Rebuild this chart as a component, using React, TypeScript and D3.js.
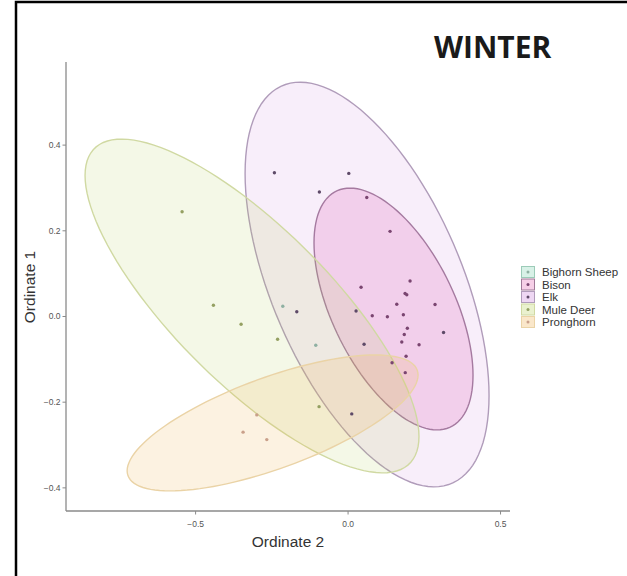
import React from "react";
import * as d3 from "d3";

// ---- data ----
const species = ["Bighorn Sheep", "Bison", "Elk", "Mule Deer", "Pronghorn"];

// 95% ellipses (data units): centre, spread in x / y, correlation
const ellipseSpecies = ["Bison", "Elk", "Mule Deer", "Pronghorn"];
const ellipseCenterX = [0.149, 0.0623, -0.315, -0.2475];
const ellipseCenterY = [0.0175, 0.0746, 0.0245, -0.2484];
const ellipseSdX = [0.2607, 0.4, 0.5475, 0.477];
const ellipseSdY = [0.2822, 0.4723, 0.3895, 0.1586];
const ellipseRho = [-0.547, -0.549, -0.782, 0.7045];

// points
const pointSpecies = [
  "Elk", "Elk", "Elk", "Elk", "Elk", "Elk", "Elk", "Elk",
  "Bison", "Bison", "Bison", "Bison", "Bison", "Bison", "Bison", "Bison", "Bison",
  "Bison", "Bison", "Bison", "Bison", "Bison", "Bison", "Bison", "Bison", "Bison",
  "Mule Deer", "Mule Deer", "Mule Deer", "Mule Deer", "Mule Deer",
  "Pronghorn", "Pronghorn", "Pronghorn",
  "Bighorn Sheep", "Bighorn Sheep",
];
const pointX = [
  -0.2416, 0.0023, -0.0941, -0.1682, 0.0262, 0.0525, 0.0121, 0.3131,
  0.0613, 0.1377, 0.2033, 0.0426, 0.1925, 0.1869, 0.1597, 0.2852, 0.0793,
  0.1289, 0.1813, 0.1944, 0.1843, 0.1761, 0.2328, 0.1902, 0.1443, 0.1875,
  -0.5443, -0.4416, -0.3508, -0.2311, -0.0951,
  -0.2993, -0.3443, -0.2666,
  -0.2141, -0.1059,
];
const pointY = [
  0.3354, 0.334, 0.2904, 0.0112, 0.0128, -0.0648, -0.2274, -0.0373,
  0.2776, 0.1987, 0.0828, 0.0683, 0.0508, 0.0536, 0.0287, 0.028, 0.0019,
  -0.0005, 0.0042, -0.0275, -0.042, -0.0595, -0.0658, -0.0928, -0.1078, -0.1311,
  0.2444, 0.0264, -0.0182, -0.0532, -0.2104,
  -0.2297, -0.2699, -0.2873,
  0.0238, -0.0672,
];

const xTicks = [-0.5, 0.0, 0.5];
const yTicks = [-0.4, -0.2, 0.0, 0.2, 0.4];
const xDomain = [-0.925, 0.531];
const yDomain = [-0.454, 0.594];

// ---- styles ----
const fillColor: Record<string, string> = {
  "Bighorn Sheep": "#7fd1b0",
  Bison: "#e060b0",
  Elk: "#c77cd8",
  "Mule Deer": "#b8d060",
  Pronghorn: "#f0b050",
};
const fillOpacity: Record<string, number> = {
  "Bighorn Sheep": 0.18,
  Bison: 0.22,
  Elk: 0.13,
  "Mule Deer": 0.15,
  Pronghorn: 0.17,
};
const lineColor: Record<string, string> = {
  "Bighorn Sheep": "#9ccbb8",
  Bison: "#a07a98",
  Elk: "#b09cba",
  "Mule Deer": "#d0d9a2",
  Pronghorn: "#ead3a6",
};
const pointColor: Record<string, string> = {
  "Bighorn Sheep": "#8fb0a2",
  Bison: "#7a4570",
  Elk: "#5e4a68",
  "Mule Deer": "#94a062",
  Pronghorn: "#c9a08a",
};

const W = 627;
const H = 576;

export default function App() {
  const x = d3.scaleLinear().domain(xDomain).range([66, 510]);
  const y = d3.scaleLinear().domain(yDomain).range([511, 62]);

  const line = d3
    .line<[number, number]>()
    .x((d) => x(d[0]))
    .y((d) => y(d[1]))
    .curve(d3.curveLinearClosed);

  const ellipsePath = (i: number) => {
    const pts: [number, number][] = [];
    const n = 120;
    const r = ellipseRho[i];
    const s = Math.sqrt(1 - r * r);
    for (let k = 0; k < n; k++) {
      const t = (k / n) * Math.PI * 2;
      const dx = ellipseSdX[i] * Math.cos(t);
      const dy = ellipseSdY[i] * (r * Math.cos(t) + s * Math.sin(t));
      pts.push([ellipseCenterX[i] + dx, ellipseCenterY[i] + dy]);
    }
    return line(pts) || "";
  };

  const axisColor = "#8a8a8a";
  const tickText = "#555";
  const fontSans = "'Liberation Sans', Arial, sans-serif";

  return (
    <svg
      width={W}
      height={H}
      style={{ position: "absolute", left: 0, top: 0, background: "#fff" }}
    >
      <rect x={0} y={0} width={W} height={H} fill="#fff" />
      {/* frame */}
      <rect x={16} y={2} width={800} height={800} fill="none" stroke="#000" strokeWidth={2.5} />

      {/* title */}
      <text
        x={434}
        y={58}
        fontFamily="'Open Sans', 'Noto Sans', sans-serif"
        fontWeight={700}
        fontSize={30}
        fill="#1a1a1a"
      >
        WINTER
      </text>

      {/* ellipses */}
      {ellipseSpecies.map((sp, i) => (
        <path
          key={"e" + sp}
          d={ellipsePath(i)}
          fill={fillColor[sp]}
          fillOpacity={fillOpacity[sp]}
          stroke={lineColor[sp]}
          strokeWidth={1.4}
        />
      ))}

      {/* points */}
      {pointX.map((px, i) => (
        <circle
          key={"p" + i}
          cx={x(px)}
          cy={y(pointY[i])}
          r={1.7}
          fill={pointColor[pointSpecies[i]]}
        />
      ))}

      {/* axes */}
      <line x1={66} x2={66} y1={y.range()[1]} y2={y.range()[0]} stroke={axisColor} strokeWidth={1.3} />
      <line x1={x.range()[0]} x2={x.range()[1]} y1={511} y2={511} stroke={axisColor} strokeWidth={1.3} />
      {yTicks.map((t) => (
        <g key={"yt" + t}>
          <line x1={62.5} x2={66} y1={y(t)} y2={y(t)} stroke={axisColor} strokeWidth={1} />
          <text
            x={60.5}
            y={y(t)}
            textAnchor="end"
            dominantBaseline="central"
            fontFamily={fontSans}
            fontSize={8.5}
            fill={tickText}
          >
            {d3.format(".1f")(t)}
          </text>
        </g>
      ))}
      {xTicks.map((t) => (
        <g key={"xt" + t}>
          <line x1={x(t)} x2={x(t)} y1={511} y2={514.5} stroke={axisColor} strokeWidth={1} />
          <text
            x={x(t)}
            y={524}
            textAnchor="middle"
            dominantBaseline="central"
            fontFamily={fontSans}
            fontSize={8.5}
            fill={tickText}
          >
            {d3.format(".1f")(t)}
          </text>
        </g>
      ))}

      {/* axis titles */}
      <text
        x={288}
        y={547}
        textAnchor="middle"
        fontFamily={fontSans}
        fontSize={15.5}
        fill="#333"
      >
        Ordinate 2
      </text>
      <text
        transform="translate(35,287) rotate(-90)"
        textAnchor="middle"
        fontFamily={fontSans}
        fontSize={15.5}
        fill="#333"
      >
        Ordinate 1
      </text>

      {/* legend */}
      {species.map((sp, i) => {
        const cy = 272 + i * 12.5;
        return (
          <g key={"lg" + sp}>
            <rect x={521} y={cy - 6} width={14} height={12} fill="#fff" />
            <rect
              x={521.5}
              y={cy - 5.5}
              width={13}
              height={11}
              fill={fillColor[sp]}
              fillOpacity={0.3}
              stroke={lineColor[sp]}
              strokeWidth={1}
            />
            <circle cx={528} cy={cy} r={1.5} fill={pointColor[sp]} />
            <text
              x={542}
              y={cy}
              dominantBaseline="central"
              fontFamily={fontSans}
              fontSize={11.5}
              fill="#333"
            >
              {sp}
            </text>
          </g>
        );
      })}
    </svg>
  );
}
